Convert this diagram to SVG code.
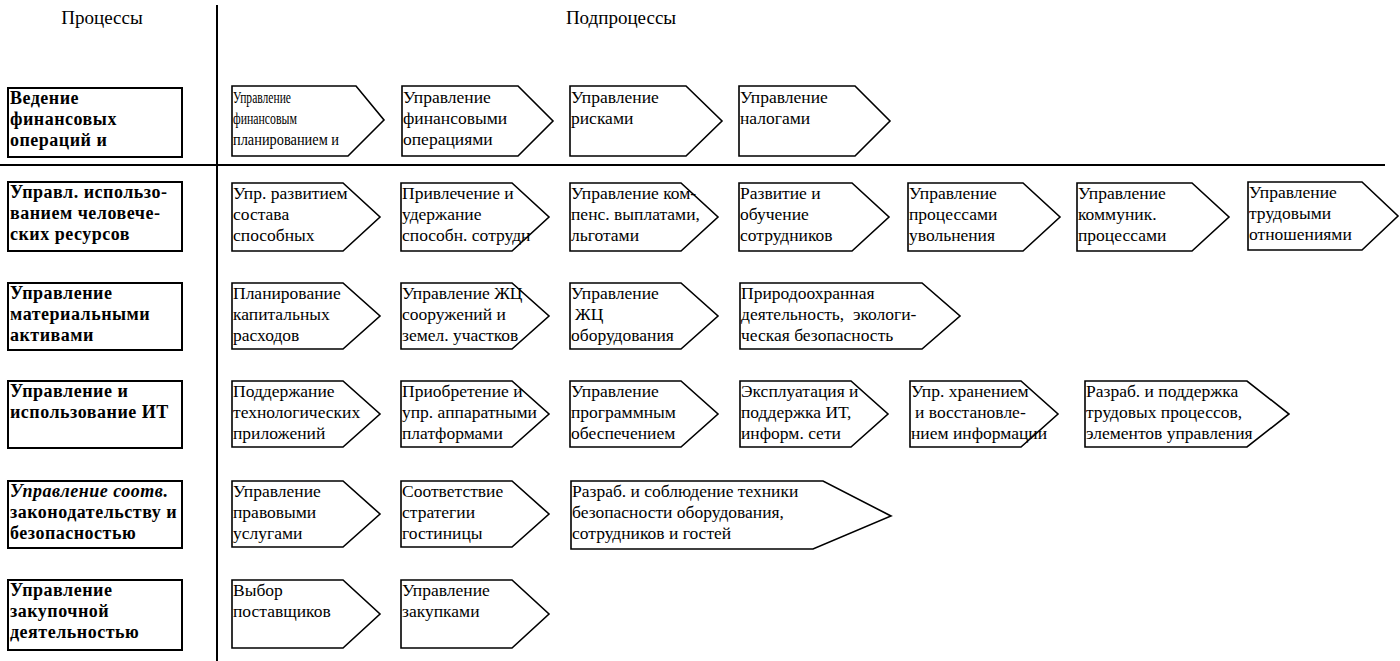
<svg xmlns="http://www.w3.org/2000/svg" width="1400" height="661" viewBox="0 0 1400 661">
<style>
.hd{font-family:"Liberation Serif","Times New Roman",serif;font-size:19px;fill:#000}
.pb{fill:#fff;stroke:#000;stroke-width:2}
.pt{font-family:"Liberation Serif","Times New Roman",serif;font-size:18px;letter-spacing:0.5px;fill:#000;font-weight:bold}
.sp{fill:#fff;stroke:#000;stroke-width:1.6;stroke-linejoin:miter}
.st{font-family:"Liberation Serif","Times New Roman",serif;font-size:17.5px;fill:#000}
.ln{stroke:#000;stroke-width:2;fill:none}
</style>
<g id="grid">
<line class="ln" x1="217" y1="5" x2="217" y2="661"/>
<line class="ln" x1="0" y1="165" x2="1385" y2="165"/>
</g>
<g id="headers">
<text class="hd" x="102" y="24" text-anchor="middle">Процессы</text>
<text class="hd" x="621" y="24" text-anchor="middle">Подпроцессы</text>
</g>
<g id="processes">
<g id="p1"><rect class="pb" x="8" y="88" width="174" height="69"/><text class="pt"><tspan x="10" y="104">Ведение</tspan><tspan x="10" y="125">финансовых</tspan><tspan x="10" y="146">операций и</tspan></text></g>
<g id="p2"><rect class="pb" x="8" y="182" width="174" height="69"/><text class="pt"><tspan x="10" y="198">Управл. использо-</tspan><tspan x="10" y="219">ванием человече-</tspan><tspan x="10" y="240">ских ресурсов</tspan></text></g>
<g id="p3"><rect class="pb" x="8" y="283" width="174" height="67"/><text class="pt"><tspan x="10" y="299">Управление</tspan><tspan x="10" y="320">материальными</tspan><tspan x="10" y="341">активами</tspan></text></g>
<g id="p4"><rect class="pb" x="8" y="381" width="174" height="67"/><text class="pt"><tspan x="10" y="397">Управление и</tspan><tspan x="10" y="418">использование ИТ</tspan></text></g>
<g id="p5"><rect class="pb" x="8" y="481" width="174" height="67"/><text class="pt"><tspan x="10" y="497" font-style="italic">Управление соотв.</tspan><tspan x="10" y="518">законодательству и</tspan><tspan x="10" y="539">безопасностью</tspan></text></g>
<g id="p6"><rect class="pb" x="8" y="580" width="174" height="70"/><text class="pt"><tspan x="10" y="596">Управление</tspan><tspan x="10" y="617">закупочной</tspan><tspan x="10" y="638">деятельностью</tspan></text></g>
</g>
<g id="subprocesses">
<!-- row 1 -->
<g id="s1-1"><path class="sp" d="M232,86 H356 L384,120 L348,156 H232 Z"/><text class="st"><tspan x="233" y="103" textLength="58" lengthAdjust="spacingAndGlyphs">Управление</tspan><tspan x="233" y="124" textLength="64" lengthAdjust="spacingAndGlyphs">финансовым</tspan><tspan x="233" y="145" textLength="106" lengthAdjust="spacingAndGlyphs">планированием и</tspan></text></g>
<g id="s1-2"><path class="sp" d="M402,86 H518 L553,121 L518,156 H402 Z"/><text class="st"><tspan x="403" y="103">Управление</tspan><tspan x="403" y="124">финансовыми</tspan><tspan x="403" y="145">операциями</tspan></text></g>
<g id="s1-3"><path class="sp" d="M570,86 H686 L722,121 L686,156 H570 Z"/><text class="st"><tspan x="571" y="103">Управление</tspan><tspan x="571" y="124">рисками</tspan></text></g>
<g id="s1-4"><path class="sp" d="M739,86 H855 L890,121 L855,156 H739 Z"/><text class="st"><tspan x="740" y="103">Управление</tspan><tspan x="740" y="124">налогами</tspan></text></g>
<!-- row 2 -->
<g id="s2-1"><path class="sp" d="M232,183 H343 L380,217 L343,251 H232 Z"/><text class="st"><tspan x="233" y="199">Упр. развитием</tspan><tspan x="233" y="220">состава</tspan><tspan x="233" y="241">способных</tspan></text></g>
<g id="s2-2"><path class="sp" d="M401,183 H512 L549,217 L512,251 H401 Z"/><text class="st"><tspan x="402" y="199">Привлечение и</tspan><tspan x="402" y="220">удержание</tspan><tspan x="402" y="241">способн. сотрудн</tspan></text></g>
<g id="s2-3"><path class="sp" d="M570,183 H681 L718,217 L681,251 H570 Z"/><text class="st"><tspan x="571" y="199">Управление ком-</tspan><tspan x="571" y="220">пенс. выплатами,</tspan><tspan x="571" y="241">льготами</tspan></text></g>
<g id="s2-4"><path class="sp" d="M739,183 H852 L889,217 L852,251 H739 Z"/><text class="st"><tspan x="740" y="199">Развитие и</tspan><tspan x="740" y="220">обучение</tspan><tspan x="740" y="241">сотрудников</tspan></text></g>
<g id="s2-5"><path class="sp" d="M908,183 H1023 L1060,217 L1023,251 H908 Z"/><text class="st"><tspan x="909" y="199">Управление</tspan><tspan x="909" y="220">процессами</tspan><tspan x="909" y="241">увольнения</tspan></text></g>
<g id="s2-6"><path class="sp" d="M1077,183 H1192 L1229,217 L1192,251 H1077 Z"/><text class="st"><tspan x="1078" y="199">Управление</tspan><tspan x="1078" y="220">коммуник.</tspan><tspan x="1078" y="241">процессами</tspan></text></g>
<g id="s2-7"><path class="sp" d="M1248,182 H1362 L1398,216 L1362,250 H1248 Z"/><text class="st"><tspan x="1249" y="198">Управление</tspan><tspan x="1249" y="219">трудовыми</tspan><tspan x="1249" y="240">отношениями</tspan></text></g>
<!-- row 3 -->
<g id="s3-1"><path class="sp" d="M232,283 H343 L380,316 L343,349 H232 Z"/><text class="st"><tspan x="233" y="299">Планирование</tspan><tspan x="233" y="320">капитальных</tspan><tspan x="233" y="341">расходов</tspan></text></g>
<g id="s3-2"><path class="sp" d="M401,283 H512 L549,316 L512,349 H401 Z"/><text class="st"><tspan x="402" y="299">Управление ЖЦ</tspan><tspan x="402" y="320">сооружений и</tspan><tspan x="402" y="341">земел. участков</tspan></text></g>
<g id="s3-3"><path class="sp" d="M570,283 H681 L718,316 L681,349 H570 Z"/><text class="st"><tspan x="571" y="299">Управление</tspan><tspan x="575" y="320">ЖЦ</tspan><tspan x="571" y="341">оборудования</tspan></text></g>
<g id="s3-4"><path class="sp" d="M740,283 H922 L960,316 L922,349 H740 Z"/><text class="st"><tspan x="741" y="299">Природоохранная</tspan><tspan x="741" y="320">деятельность,&#160; экологи-</tspan><tspan x="741" y="341">ческая безопасность</tspan></text></g>
<!-- row 4 -->
<g id="s4-1"><path class="sp" d="M232,381 H343 L380,414 L343,447 H232 Z"/><text class="st"><tspan x="233" y="397">Поддержание</tspan><tspan x="233" y="418">технологических</tspan><tspan x="233" y="439">приложений</tspan></text></g>
<g id="s4-2"><path class="sp" d="M401,381 H512 L549,414 L512,447 H401 Z"/><text class="st"><tspan x="402" y="397">Приобретение и</tspan><tspan x="402" y="418">упр. аппаратными</tspan><tspan x="402" y="439">платформами</tspan></text></g>
<g id="s4-3"><path class="sp" d="M570,381 H681 L718,414 L681,447 H570 Z"/><text class="st"><tspan x="571" y="397">Управление</tspan><tspan x="571" y="418">программным</tspan><tspan x="571" y="439">обеспечением</tspan></text></g>
<g id="s4-4"><path class="sp" d="M740,381 H851 L888,414 L851,447 H740 Z"/><text class="st"><tspan x="741" y="397">Эксплуатация и</tspan><tspan x="741" y="418">поддержка ИТ,</tspan><tspan x="741" y="439">информ. сети</tspan></text></g>
<g id="s4-5"><path class="sp" d="M910,381 H1021 L1058,414 L1021,447 H910 Z"/><text class="st"><tspan x="911" y="397">Упр. хранением</tspan><tspan x="915" y="418">и восстановле-</tspan><tspan x="911" y="439">нием информации</tspan></text></g>
<g id="s4-6"><path class="sp" d="M1085,381 H1247 L1289,414 L1247,447 H1085 Z"/><text class="st"><tspan x="1086" y="397">Разраб. и поддержка</tspan><tspan x="1086" y="418">трудовых процессов,</tspan><tspan x="1086" y="439">элементов управления</tspan></text></g>
<!-- row 5 -->
<g id="s5-1"><path class="sp" d="M232,481 H343 L380,514 L343,547 H232 Z"/><text class="st"><tspan x="233" y="497">Управление</tspan><tspan x="233" y="518">правовыми</tspan><tspan x="233" y="539">услугами</tspan></text></g>
<g id="s5-2"><path class="sp" d="M401,481 H512 L549,514 L512,547 H401 Z"/><text class="st"><tspan x="402" y="497">Соответствие</tspan><tspan x="402" y="518">стратегии</tspan><tspan x="402" y="539">гостиницы</tspan></text></g>
<g id="s5-3"><path class="sp" d="M571,481 H823 L891,516 L813,549 H571 Z"/><text class="st"><tspan x="572" y="497">Разраб. и соблюдение техники</tspan><tspan x="572" y="518">безопасности оборудования,</tspan><tspan x="572" y="539">сотрудников и гостей</tspan></text></g>
<!-- row 6 -->
<g id="s6-1"><path class="sp" d="M232,580 H343 L380,614 L343,648 H232 Z"/><text class="st"><tspan x="233" y="596">Выбор</tspan><tspan x="233" y="617">поставщиков</tspan></text></g>
<g id="s6-2"><path class="sp" d="M401,580 H512 L549,614 L512,648 H401 Z"/><text class="st"><tspan x="402" y="596">Управление</tspan><tspan x="402" y="617">закупками</tspan></text></g>
</g>
</svg>
